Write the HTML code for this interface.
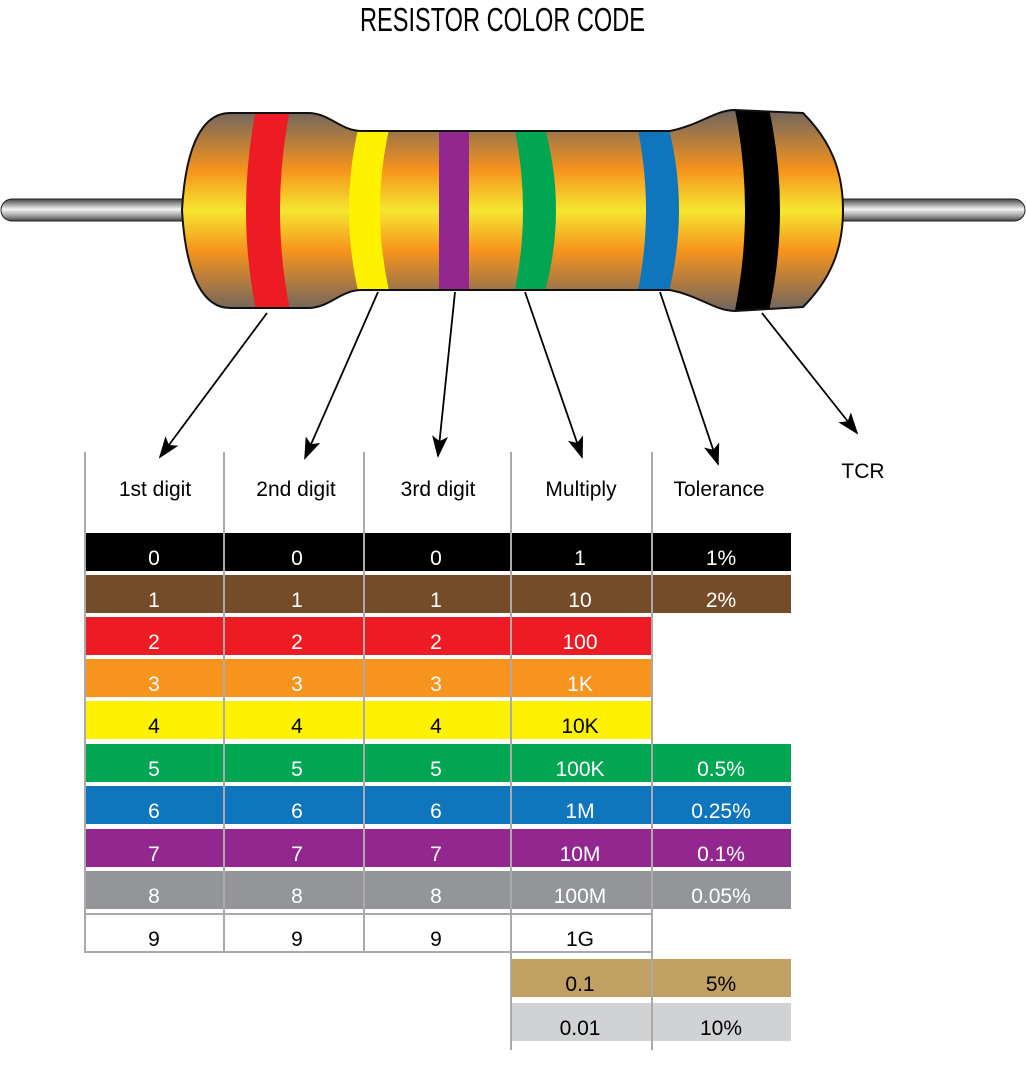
<!DOCTYPE html>
<html><head><meta charset="utf-8"><style>
html,body{margin:0;padding:0;background:#fff;}
svg{display:block;}
text{font-family:"Liberation Sans",sans-serif;}
</style></head><body>
<svg width="1026" height="1079" viewBox="0 0 1026 1079" xmlns="http://www.w3.org/2000/svg">
<defs>
<linearGradient id="bg" x1="0" y1="110" x2="0" y2="311" gradientUnits="userSpaceOnUse">
<stop offset="0" stop-color="#6e6560"/>
<stop offset="0.3" stop-color="#f7941d"/>
<stop offset="0.5" stop-color="#f5e630"/>
<stop offset="0.7" stop-color="#f7941d"/>
<stop offset="1" stop-color="#6e6560"/>
</linearGradient>
<linearGradient id="lg" x1="0" y1="199" x2="0" y2="222" gradientUnits="userSpaceOnUse">
<stop offset="0" stop-color="#444"/>
<stop offset="0.45" stop-color="#f4f4f4"/>
<stop offset="0.75" stop-color="#999"/>
<stop offset="1" stop-color="#333"/>
</linearGradient>
<clipPath id="bc"><path d="M182,210 C186,140 205,113 230,113 L308,113 C330,113 340,131 362,131 L670,131 C700,125 715,110 735,110 L803,113 C830,140 843,170 843,210 C843,250 830,280 803,307 L735,311 C715,311 700,296 670,290 L362,290 C340,290 330,308 308,308 L230,308 C205,308 186,280 182,210 Z"/></clipPath>
<marker id="ah" markerWidth="22" markerHeight="16" refX="20" refY="8" orient="auto" markerUnits="userSpaceOnUse" viewBox="0 0 22 16">
<path d="M0,0 L22,8 L0,16 L5,8 Z" fill="#000"/>
</marker>
</defs>

<text x="360" y="31" font-size="33" textLength="285" lengthAdjust="spacingAndGlyphs" fill="#000">RESISTOR COLOR CODE</text>

<rect x="1" y="199" width="195" height="22" rx="11" fill="url(#lg)" stroke="#222" stroke-width="1"/>
<rect x="830" y="199" width="195" height="22" rx="11" fill="url(#lg)" stroke="#222" stroke-width="1"/>

<g clip-path="url(#bc)">
<rect x="170" y="100" width="690" height="220" fill="url(#bg)"/>
<path d="M258,100 L292,100 Q268,210 292,320 L258,320 Q234,210 258,100 Z" fill="#ed1c24"/>
<path d="M359,125 L390,125 Q370,210 390,295 L359,295 Q339,210 359,125 Z" fill="#fff200"/>
<rect x="439" y="125" width="30" height="170" fill="#92278f"/>
<path d="M514,125 L544,125 Q568,210 544,295 L514,295 Q532,210 514,125 Z" fill="#00a651"/>
<path d="M637,125 L668,125 Q690,210 668,295 L637,295 Q655,210 637,125 Z" fill="#0f75bc"/>
<path d="M733,100 L767,100 Q793,210 767,320 L733,320 Q757,210 733,100 Z" fill="#000"/>
</g>
<path d="M182,210 C186,140 205,113 230,113 L308,113 C330,113 340,131 362,131 L670,131 C700,125 715,110 735,110 L803,113 C830,140 843,170 843,210 C843,250 830,280 803,307 L735,311 C715,311 700,296 670,290 L362,290 C340,290 330,308 308,308 L230,308 C205,308 186,280 182,210 Z" fill="none" stroke="#111" stroke-width="2"/>

<g stroke="#000" stroke-width="1.8" fill="none">
<line x1="267" y1="313" x2="160" y2="457" marker-end="url(#ah)"/>
<line x1="378" y1="292" x2="305" y2="458" marker-end="url(#ah)"/>
<line x1="455" y1="292" x2="438" y2="456" marker-end="url(#ah)"/>
<line x1="525" y1="292" x2="582" y2="457" marker-end="url(#ah)"/>
<line x1="660" y1="292" x2="718" y2="464" marker-end="url(#ah)"/>
<line x1="762" y1="313" x2="857" y2="433" marker-end="url(#ah)"/>
</g>

<g font-size="21" fill="#000" text-anchor="middle">
<text x="155" y="496">1st digit</text>
<text x="296" y="496">2nd digit</text>
<text x="438" y="496">3rd digit</text>
<text x="581" y="496">Multiply</text>
<text x="719" y="496">Tolerance</text>
<text x="863" y="478">TCR</text>
</g>

<g>
<rect x="85" y="533" width="706" height="38" fill="#000"/>
<rect x="85" y="575" width="706" height="38" fill="#754c29"/>
<rect x="85" y="617" width="567" height="38" fill="#ed1c24"/>
<rect x="85" y="659" width="567" height="38" fill="#f7941d"/>
<rect x="85" y="701" width="567" height="38" fill="#fff200"/>
<rect x="85" y="744" width="706" height="38" fill="#00a651"/>
<rect x="85" y="786" width="706" height="38" fill="#0f75bc"/>
<rect x="85" y="829" width="706" height="38" fill="#92278f"/>
<rect x="85" y="871" width="706" height="38" fill="#939598"/>
<rect x="85" y="914" width="567" height="38" fill="#fff" stroke="#aaa" stroke-width="2"/>
<rect x="511" y="959" width="280" height="38" fill="#c1a063"/>
<rect x="511" y="1003" width="280" height="38" fill="#d1d2d4"/>
</g>

<g stroke="#aaa" stroke-width="2">
<line x1="85" y1="452" x2="85" y2="953"/>
<line x1="224" y1="452" x2="224" y2="953"/>
<line x1="364" y1="452" x2="364" y2="953"/>
<line x1="511" y1="452" x2="511" y2="1050"/>
<line x1="652" y1="452" x2="652" y2="1050"/>
</g>

<g font-size="21" text-anchor="middle">
<g fill="#fff">
<text x="154" y="565">0</text><text x="297" y="565">0</text><text x="436" y="565">0</text><text x="580" y="565">1</text><text x="721" y="565">1%</text>
<text x="154" y="607">1</text><text x="297" y="607">1</text><text x="436" y="607">1</text><text x="580" y="607">10</text><text x="721" y="607">2%</text>
<text x="154" y="649">2</text><text x="297" y="649">2</text><text x="436" y="649">2</text><text x="580" y="649">100</text>
<text x="154" y="691">3</text><text x="297" y="691">3</text><text x="436" y="691">3</text><text x="580" y="691">1K</text>
<text x="154" y="776">5</text><text x="297" y="776">5</text><text x="436" y="776">5</text><text x="580" y="776">100K</text><text x="721" y="776">0.5%</text>
<text x="154" y="818">6</text><text x="297" y="818">6</text><text x="436" y="818">6</text><text x="580" y="818">1M</text><text x="721" y="818">0.25%</text>
<text x="154" y="861">7</text><text x="297" y="861">7</text><text x="436" y="861">7</text><text x="580" y="861">10M</text><text x="721" y="861">0.1%</text>
<text x="154" y="903">8</text><text x="297" y="903">8</text><text x="436" y="903">8</text><text x="580" y="903">100M</text><text x="721" y="903">0.05%</text>
</g>
<g fill="#000">
<text x="154" y="733">4</text><text x="297" y="733">4</text><text x="436" y="733">4</text><text x="580" y="733">10K</text>
<text x="154" y="946">9</text><text x="297" y="946">9</text><text x="436" y="946">9</text><text x="580" y="946">1G</text>
<text x="580" y="991">0.1</text><text x="721" y="991">5%</text>
<text x="580" y="1035">0.01</text><text x="721" y="1035">10%</text>
</g>
</g>
</svg>
</body></html>
